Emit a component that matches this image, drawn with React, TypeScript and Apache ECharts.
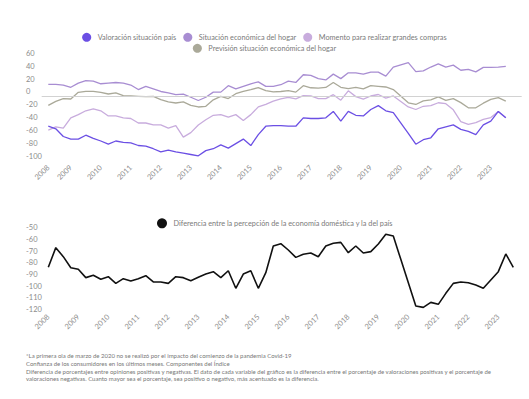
import React, { useEffect, useRef } from "react";
import * as echarts from "echarts";

const FONT = "Lato";

const nameValoracion = "Valoración situación país";
const nameHogar = "Situación económica del hogar";
const nameMomento = "Momento para realizar grandes compras";
const namePrevision = "Previsión situación económica del hogar";
const nameDiferencia = "Diferencia entre la percepción de la economía doméstica y la del país";

// Quarterly survey waves (top chart: 2008 T2 – 2023 T3, bottom: 2008 T1 – 2023 T3)
function quarterLabels(startYear: number, startQ: number, count: number): string[] {
  const out: string[] = [];
  let y = startYear;
  let q = startQ;
  for (let i = 0; i < count; i++) {
    out.push(`${y}-T${q}`);
    q++;
    if (q > 4) { q = 1; y++; }
  }
  return out;
}
const topQuarters = quarterLabels(2008, 2, 62);
const bottomQuarters = quarterLabels(2008, 1, 63);

// null = ola de marzo de 2020 no realizada
const valoracionPais = [
  -47, -51, -63, -67, -67, -61, -66, -70, -75, -70, -72, -73, -77, -78, -82, -87, -84, -87, -89, -91,
  -93, -85, -82, -76, -81, -74, -67, -77, -60, -47, -46, -46, -47, -47, -34, -35, -35, -34, -24, -39,
  -24, -30, -31, -21, -15, -23, -26, null, -58, -75, -68, -65, -51, -48, -45, -52, -55, -60, -45, -39,
  -24, -34,
];
const situacionHogar = [
  18, 18, 17, 13.5, 20, 24, 23, 19, 20, 21, 20, 17, 10, 15, 11, 7, 5, 2, 3, -2,
  -7, -2, 6, 6, 16, 11, 15, 19, 22, 15, 15, 17.5, 23, 21, 33, 32, 27, 25, 34, 27,
  36, 36, 34, 37, 37, 31, 45, null, 52, 38, 39, 45, 50, 45, 48, 40, 41.5, 37.5, 44.5, 44.5,
  45, 46,
];
const momentoCompras = [
  -53, -48, -50, -34, -29, -23, -20, -23, -31, -31, -34, -35, -42, -42, -45, -45, -50, -46, -64, -57,
  -45, -37, -30, -29, -33, -29, -38, -29, -17, -13, -8, -4.5, -2, -4.5, 0.5, 0, -4, -4, 2, -6.5,
  8, -1, -5, 0, 2.3, -3.3, 0, null, -17, -21, -16, -15, -10.5, -12, -21.5, -40, -44, -41.5, -36.5, -33.5,
  -24, -34,
];
const prevision = [
  -14.5, -8.3, -4.1, -4.7, 5.7, 7.3, 7.3, 5.7, 3.1, 4.7, 0.5, 0, -0.5, -1, -0.5, -5.7, -9.3, -10.9, -9.3, -14.5,
  -17.1, -16, -6, -0.5, -4, 3.6, 7.3, 10, 13, 8.5, 6.3, 7, 8.5, 6, 16, 12.8, 12.3, 13.3, 21, 13.5,
  11.5, 13.3, 11.2, 16, 15, 14, 10, null, -10.6, -13.2, -7.5, -6, -1.5, -6.8, -4.2, -10.3, -18.4, -18.4, -11.2, -5.2,
  -2.5, -8,
];
const diferencia = [
  -80.5, -63.7, -71.4, -80.8, -82.2, -89.3, -87.3, -90.7, -88.5, -94.2, -90.2, -92.2, -90.2, -87.6, -93, -93,
  -94.2, -88.5, -89.3, -91.9, -89, -86.2, -84.2, -89.3, -83.4, -98.4, -86.2, -83.4, -98.4, -85.1, -62.3, -60.3,
  -65.7, -72, -69.4, -68.3, -71.4, -62.3, -60, -59.2, -68, -62.3, -68.3, -67.1, -60.6, -52.3, -53.8, -73.7,
  null, -113.5, -114.7, -110.4, -112.1, -102.7, -94.2, -93, -93.6, -95.6, -98.4, -91.3, -84.2, -69.1, -80.5,
];

const footnotes = [
  "*La primera ola de marzo de 2020 no se realizó por el impacto del comienzo de la pandemia Covid-19",
  "Confianza de los consumidores en los últimos meses. Componentes del Índice",
  "Diferencia de porcentajes entre opiniones positivas y negativas. El dato de cada variable del gráfico es la diferencia entre el porcentaje de valoraciones positivas y el porcentaje de",
  "valoraciones negativas. Cuanto mayor sea el porcentaje, sea positivo o negativo, más acentuado es la diferencia.",
];

const colors = {
  valoracion: "#6b4fe4",
  hogar: "#a88dd2",
  momento: "#c8acdd",
  prevision: "#aaa999",
  diferencia: "#111111",
};

function yearTicks(q: string[]): number[] {
  const idx: number[] = [];
  q.forEach((lab, i) => {
    if (i === 0 || lab.slice(0, 4) !== q[i - 1].slice(0, 4)) idx.push(i);
  });
  return idx;
}

function toPairs(values: (number | null)[]) {
  return values.map((v, i) => [i, v === null ? null : v]);
}

export default function App() {
  const ref = useRef<HTMLDivElement>(null);
  useEffect(() => {
    if (!ref.current) return;
    const chart = echarts.init(ref.current, undefined, { renderer: "svg" });

    const labelColor = "#8c8c8c";
    const xAxisBase = (quarters: string[], margin: number, gridIndex: number) => ({
      type: "value",
      gridIndex,
      min: -0.88,
      max: 63.12,
      axisLine: { show: false },
      axisTick: { show: false },
      splitLine: { show: false },
      axisLabel: {
        customValues: yearTicks(quarters),
        rotate: 45,
        margin,
        fontSize: 7.5,
        fontFamily: FONT,
        color: labelColor,
        formatter: (v: number) => {
          const lab = quarters[Math.round(v)];
          return lab ? lab.slice(0, 4) : "";
        },
      },
    });

    const yAxisBase = (min: number, max: number, interval: number, gridIndex: number) => ({
      type: "value",
      gridIndex,
      min,
      max,
      interval,
      axisLine: { show: false },
      axisTick: { show: false },
      splitLine: { show: false },
      axisLabel: {
        align: "left",
        verticalAlign: "bottom",
        margin: 15.7,
        fontSize: 7.5,
        fontFamily: FONT,
        color: labelColor,
      },
    });

    const lineSeries = (name: string, data: (number | null)[], color: string, idx: number, width = 1.3) => ({
      name,
      type: "line",
      xAxisIndex: idx,
      yAxisIndex: idx,
      data: toPairs(data),
      showSymbol: false,
      symbol: "circle",
      connectNulls: true,
      color,
      lineStyle: { color, width },
      emphasis: { disabled: true },
    });

    const legendText = { fontSize: 7.3, fontFamily: FONT, color: "#7a7a7a" };

    chart.setOption({
      animation: false,
      textStyle: { fontFamily: FONT },
      grid: [
        { left: 41.7, right: 7.3, top: 57.4, height: 102.9 },
        { left: 41.7, right: 7.3, top: 231.6, height: 82 },
      ],
      xAxis: [xAxisBase(topQuarters, 6, 0), xAxisBase(bottomQuarters, 2, 1)],
      yAxis: [yAxisBase(-100, 60, 20, 0), yAxisBase(-120, -50, 10, 1)],
      legend: [
        {
          data: [nameValoracion, nameHogar, nameMomento],
          left: "center",
          top: 27.8,
          icon: "circle",
          itemWidth: 12,
          itemHeight: 9,
          itemGap: 7,
          selectedMode: false,
          textStyle: legendText,
        },
        {
          data: [namePrevision],
          left: "center",
          top: 38.8,
          icon: "circle",
          itemWidth: 12,
          itemHeight: 9,
          itemGap: 7,
          selectedMode: false,
          textStyle: legendText,
        },
        {
          data: [nameDiferencia],
          left: 152,
          top: 213.3,
          icon: "circle",
          itemWidth: 13,
          itemHeight: 10,
          selectedMode: false,
          textStyle: legendText,
        },
      ],
      series: [
        {
          ...lineSeries(nameHogar, situacionHogar, colors.hogar, 0),
          markLine: {
            silent: true,
            symbol: ["none", "none"],
            label: { show: false },
            lineStyle: { color: "#d2d2d2", width: 1, type: "solid" },
            data: [{ yAxis: 0 }],
          },
        },
        lineSeries(namePrevision, prevision, colors.prevision, 0),
        lineSeries(nameMomento, momentoCompras, colors.momento, 0),
        lineSeries(nameValoracion, valoracionPais, colors.valoracion, 0),
        lineSeries(nameDiferencia, diferencia, colors.diferencia, 1, 1.6),
      ],
      graphic: [
        {
          type: "text",
          left: 26,
          top: 352,
          silent: true,
          style: {
            text: footnotes.join("\n"),
            fontSize: 6,
            lineHeight: 7.6,
            fontFamily: FONT,
            fill: "#777777",
          },
        },
      ],
    });

    return () => chart.dispose();
  }, []);

  return (
    <div
      ref={ref}
      style={{ position: "fixed", left: 0, top: 0, width: 529, height: 399, background: "#ffffff" }}
    />
  );
}
